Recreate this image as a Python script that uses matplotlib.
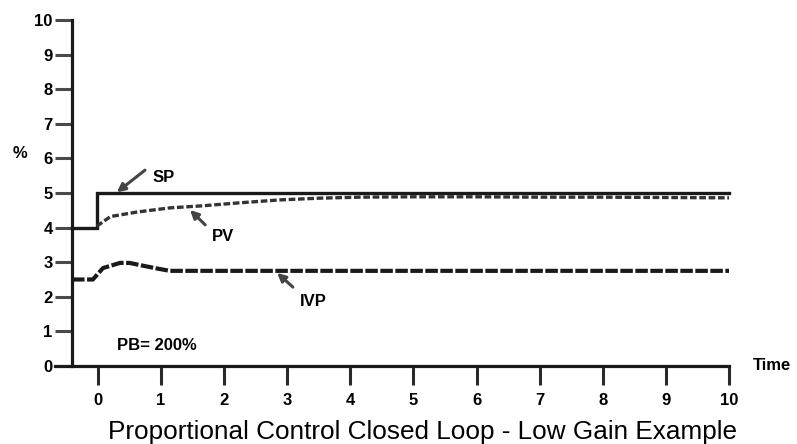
import matplotlib
matplotlib.use("Agg")
import matplotlib.pyplot as plt

plt.rcParams['font.family'] = ['Liberation Sans', 'DejaVu Sans']

# ---- data ----
x_ticks = [0, 1, 2, 3, 4, 5, 6, 7, 8, 9, 10]
y_ticks = [0, 1, 2, 3, 4, 5, 6, 7, 8, 9, 10]

sp_t = [-0.41, -0.02, -0.02, 10]
sp_v = [4.0, 4.0, 5.0, 5.0]

pv_t = [-0.02, 0.2, 0.62, 1.14, 1.66, 2.2, 2.88, 3.5, 4.15, 5, 6, 7, 8, 9, 10]
pv_v = [4.04, 4.32, 4.45, 4.57, 4.63, 4.71, 4.80, 4.85, 4.88, 4.89, 4.89, 4.88, 4.88, 4.87, 4.86]

ivp_t = [-0.41, -0.08, 0.08, 0.35, 0.5, 0.71, 0.93, 1.14, 10]
ivp_v = [2.5, 2.5, 2.83, 2.98, 2.98, 2.90, 2.82, 2.75, 2.75]

title = "Proportional Control Closed Loop - Low Gain Example"

# ---- figure ----
fig = plt.figure(figsize=(7.97, 4.44), dpi=100)
ax = fig.add_axes([55/797, 78/444, (729-55)/797, (366-20)/444])
ax.set_xlim(-0.68, 10)
ax.set_ylim(0, 10)

for s in ['top', 'right']:
    ax.spines[s].set_visible(False)
ax.spines['left'].set_position(('data', -0.41))
ax.spines['left'].set_linewidth(2.3)
ax.spines['left'].set_color('#1a1a1a')
ax.spines['bottom'].set_linewidth(2.3)
ax.spines['bottom'].set_color('#1a1a1a')

ax.set_xticks(x_ticks)
ax.set_yticks(y_ticks)
ax.set_xticklabels([str(v) for v in x_ticks], fontsize=12, fontweight='bold')
ax.set_yticklabels([str(v) for v in y_ticks], fontsize=12, fontweight='bold')
ax.tick_params(axis='x', direction='out', length=13.5, width=2.2, color='#2a2a2a', pad=6)
ax.tick_params(axis='y', direction='out', length=12, width=2.2, color='#4a4a4a', pad=2)

# lines
ax.plot(sp_t, sp_v, color='#1a1a1a', lw=2.4, solid_joinstyle='miter', clip_on=False)
ax.plot(pv_t, pv_v, color='#333333', lw=2.4, dashes=(2.0, 0.8))
ax.plot(ivp_t, ivp_v, color='#1a1a1a', lw=3.0, dashes=(3.0, 0.6))

# annotations
arrow = dict(arrowstyle='-|>', color='#444444', lw=2.2, mutation_scale=12, shrinkA=0, shrinkB=0)
ax.annotate('', xy=(0.30, 5.02), xytext=(0.745, 5.66), arrowprops=arrow)
ax.text(0.86, 5.46, 'SP', fontsize=12, fontweight='bold', va='center', ha='left')

ax.annotate('', xy=(1.46, 4.51), xytext=(1.70, 4.08), arrowprops=arrow)
ax.text(1.81, 3.73, 'PV', fontsize=12, fontweight='bold', va='center', ha='left')

ax.annotate('', xy=(2.84, 2.69), xytext=(3.09, 2.28), arrowprops=arrow)
ax.text(3.20, 1.85, 'IVP', fontsize=12, fontweight='bold', va='center', ha='left')

ax.text(0.30, 0.58, 'PB= 200%', fontsize=12, fontweight='bold', va='center', ha='left')

fig.text(753/797, 1 - 365/444, 'Time', fontsize=12, fontweight='bold', va='center', ha='left')
fig.text(20/797, 1 - 153/444, '%', fontsize=12, fontweight='bold', va='center', ha='center')
fig.text(422/797, 1 - 439/444, title, fontsize=18.8, va='baseline', ha='center')

fig.savefig('out.png', dpi=100)
